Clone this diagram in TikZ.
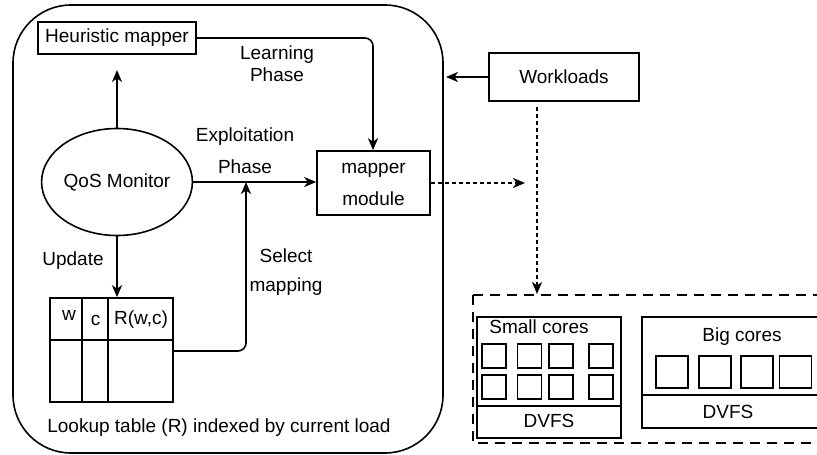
\documentclass[tikz,border=0pt]{standalone}
\usepackage{fontspec}
\setmainfont{Liberation Sans}
\usetikzlibrary{arrows.meta,shapes.geometric}
\begin{document}
\begin{tikzpicture}[x=1pt,y=-1pt,
  every node/.style={font=\fontsize{19}{22}\selectfont, inner sep=0pt},
  line/.style={line width=1.6pt},
  arr/.style={line width=1.6pt,-{Stealth[length=12pt,width=10pt,inset=3.5pt]}},
  darr/.style={arr,dash pattern=on 4pt off 3pt},
  boxn/.style={draw,line width=1.6pt,rectangle,align=center},
  core/.style={draw,line width=1.5pt,rectangle},
  lbl/.style={align=center}
]
\clip (0,0) rectangle (817,455);
\fill[white] (0,0) rectangle (817,455);

% outer rounded container
\node[draw,line width=1.6pt,rounded corners=58pt,minimum width=430pt,minimum height=448pt] (outer) at (228,229) {};

% nodes
\node[boxn,minimum width=158pt,minimum height=32pt] (heur) at (117,38) {Heuristic mapper};
\node[draw,ellipse,line width=1.6pt,minimum width=140pt,minimum height=107pt] (qos) at (117,182) {QoS Monitor};
\node[boxn,minimum width=113pt,minimum height=64pt] (mapper) at (373.5,183) {};
\node (mapt1) at (373.5,170) {mapper};
\node (mapt2) at (373.5,199) {module};
\node[boxn,minimum width=150pt,minimum height=48pt] (work) at (564,77) {Workloads};

% table
\node[draw,line width=1.6pt,minimum width=123pt,minimum height=104pt] (tbl) at (111.5,350) {};
\draw[line] (50,340) -- (173,340);
\draw[line] (82,298) -- (82,402);
\draw[line] (108,298) -- (108,402);
\node (tw) at (69,315) {w};
\node (tc) at (95.5,320) {c};
\node (tr) at (141,320) {R(w,c)};
\node (lookup) at (219,428) {Lookup table (R) indexed by current load};

% labels
\node[lbl] (learn) at (277,64) {Learning\\Phase};
\node (expl1) at (245,137) {Exploitation};
\node (expl2) at (245,167) {Phase};
\node (sel1) at (286,256) {Select};
\node (sel2) at (286,287) {mapping};
\node (upd) at (73,261) {Update};

% connectors
\coordinate (heurbot) at (117,70);
\draw[arr] (qos.north) -- (heurbot);
\draw[arr,rounded corners=8pt] (heur.east) -- (373,38) -- (mapper.north -| 373,0);
\draw[arr] (qos.east) -- (mapper.west |- qos.east);
\coordinate (selend) at (246,182);
\draw[arr,rounded corners=8pt] (173,351) -- (246,351) -- (selend);
\draw[arr] (qos.south) -- (tbl.north -| qos.south);
\coordinate (workend) at (446,77);
\draw[arr] (work.west) -- (workend);
\coordinate (mapout) at (525,183);
\draw[darr] (mapper.east) -- (mapout);
\coordinate (wtop) at (537,107);
\coordinate (wbot) at (537,294);
\draw[darr] (wtop) -- (wbot);

% platform
\draw[line width=2.8pt,dash pattern=on 10pt off 7pt] (473,295) rectangle (840,443);
\node[draw,line width=1.6pt,minimum width=144pt,minimum height=121pt] (small) at (549,377.5) {};
\draw[line] (477,406) -- (621,406);
\node (smallt) at (539,327) {Small cores};
\node (sdvfs) at (549,421) {DVFS};
\foreach \x in {494,529.5,561,601}{
  \foreach \y in {356,387}{
    \node[core,minimum width=24pt,minimum height=24pt] at (\x,\y) {};
  }
}
\node[draw,line width=1.6pt,minimum width=200pt,minimum height=111pt] (big) at (742,372.5) {};
\draw[line] (642,395) -- (842,395);
\node (bigt) at (742,337) {Big cores};
\node (bdvfs) at (728,412) {DVFS};
\foreach \x in {672,715,757,795.5}{
  \node[core,minimum width=32pt,minimum height=32pt] at (\x,372) {};
}
\end{tikzpicture}
\end{document}
